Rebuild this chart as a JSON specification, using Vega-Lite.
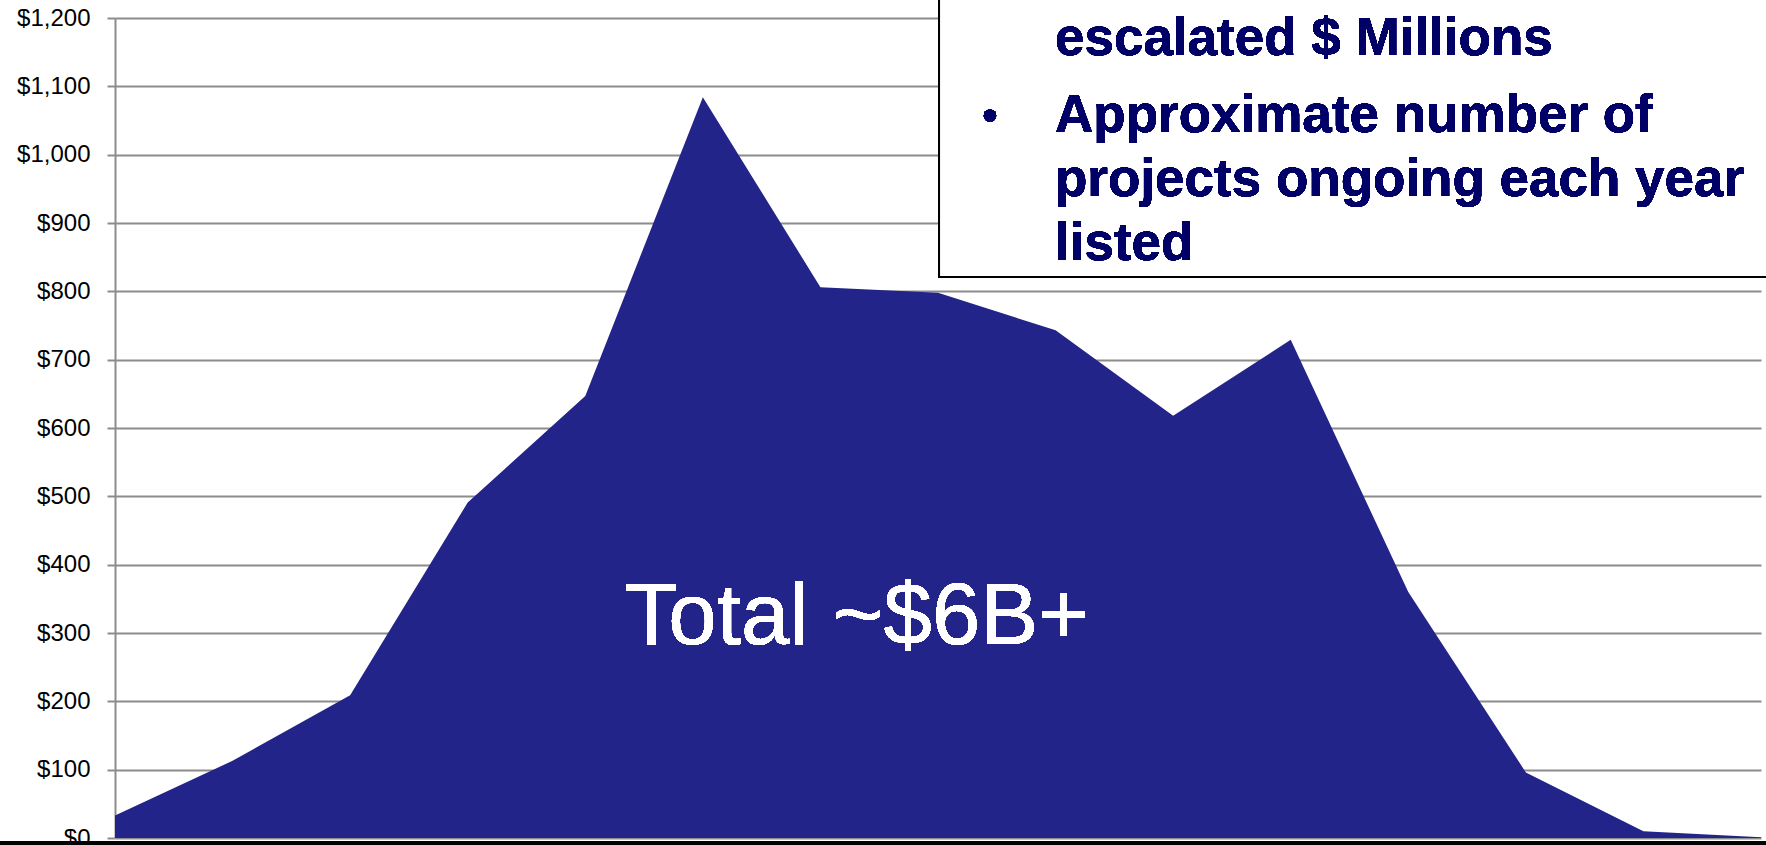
{
  "$schema": "https://vega.github.io/schema/vega-lite/v6.json",
  "autosize": {"type": "none"},
  "width": 1646,
  "height": 820,
  "padding": {"left": 115, "top": 18, "right": 5, "bottom": 7},
  "background": "white",
  "config": {"view": {"stroke": null}},
  "data": {
    "values": [
      {"period": 1, "cost": 33},
      {"period": 2, "cost": 113},
      {"period": 3, "cost": 209},
      {"period": 4, "cost": 491},
      {"period": 5, "cost": 647},
      {"period": 6, "cost": 1084},
      {"period": 7, "cost": 806},
      {"period": 8, "cost": 798},
      {"period": 9, "cost": 743},
      {"period": 10, "cost": 618},
      {"period": 11, "cost": 729},
      {"period": 12, "cost": 360},
      {"period": 13, "cost": 96},
      {"period": 14, "cost": 10},
      {"period": 15, "cost": 1}
    ]
  },
  "layer": [
    {
      "mark": {"type": "area", "color": "#222489", "opacity": 1},
      "encoding": {
        "x": {"field": "period", "type": "quantitative", "scale": {"domain": [1, 15], "nice": false, "zero": false}, "axis": null},
        "y": {"field": "cost", "type": "quantitative", "scale": {"domain": [0, 1200], "nice": false},
          "axis": {"values": [0,100,200,300,400,500,600,700,800,900,1000,1100,1200], "format": "$,.0f", "title": null,
            "labelFont": "Liberation Sans", "labelFontSize": 24, "labelColor": "#000000", "labelPadding": 17,
            "tickSize": 8, "tickWidth": 2, "tickColor": "#8c8c8c", "domainColor": "#8c8c8c", "domainWidth": 2,
            "grid": true, "gridColor": "#8c8c8c", "gridWidth": 2}}
      }
    },
    {
      "mark": {"type": "text", "text": "Total ~$6B+", "font": "Liberation Sans", "fontSize": 87, "color": "#ffffff", "align": "center", "baseline": "alphabetic"},
      "encoding": {"x": {"datum": 7.311, "type": "quantitative"}, "y": {"datum": 284.4, "type": "quantitative"}}
    },
    {
      "mark": {"type": "rect", "fill": "#ffffff", "stroke": "#000000", "strokeWidth": 2},
      "encoding": {"x": {"datum": 8.009, "type": "quantitative"}, "x2": {"datum": 16}, "y": {"datum": 821, "type": "quantitative"}, "y2": {"datum": 1300}}
    },
    {
      "mark": {"type": "text", "text": "escalated $ Millions", "font": "Liberation Sans", "fontWeight": "bold", "fontSize": 53, "color": "#000066", "align": "left", "baseline": "alphabetic"},
      "encoding": {"x": {"datum": 8.995, "type": "quantitative"}, "y": {"datum": 1146.3, "type": "quantitative"}}
    },
    {
      "mark": {"type": "point", "shape": "circle", "filled": true, "size": 155, "color": "#000066", "opacity": 1},
      "encoding": {"x": {"datum": 8.442, "type": "quantitative"}, "y": {"datum": 1057, "type": "quantitative"}}
    },
    {
      "mark": {"type": "text", "text": ["Approximate number of", "projects ongoing each year", "listed"], "lineHeight": 64, "font": "Liberation Sans", "fontWeight": "bold", "fontSize": 53, "color": "#000066", "align": "left", "baseline": "alphabetic"},
      "encoding": {"x": {"datum": 8.995, "type": "quantitative"}, "y": {"datum": 1033.6, "type": "quantitative"}}
    },
    {
      "mark": {"type": "rule", "color": "#000000", "strokeWidth": 4},
      "encoding": {"x": {"datum": -1, "type": "quantitative"}, "x2": {"datum": 16}, "y": {"datum": -7.4, "type": "quantitative"}}
    }
  ]
}
